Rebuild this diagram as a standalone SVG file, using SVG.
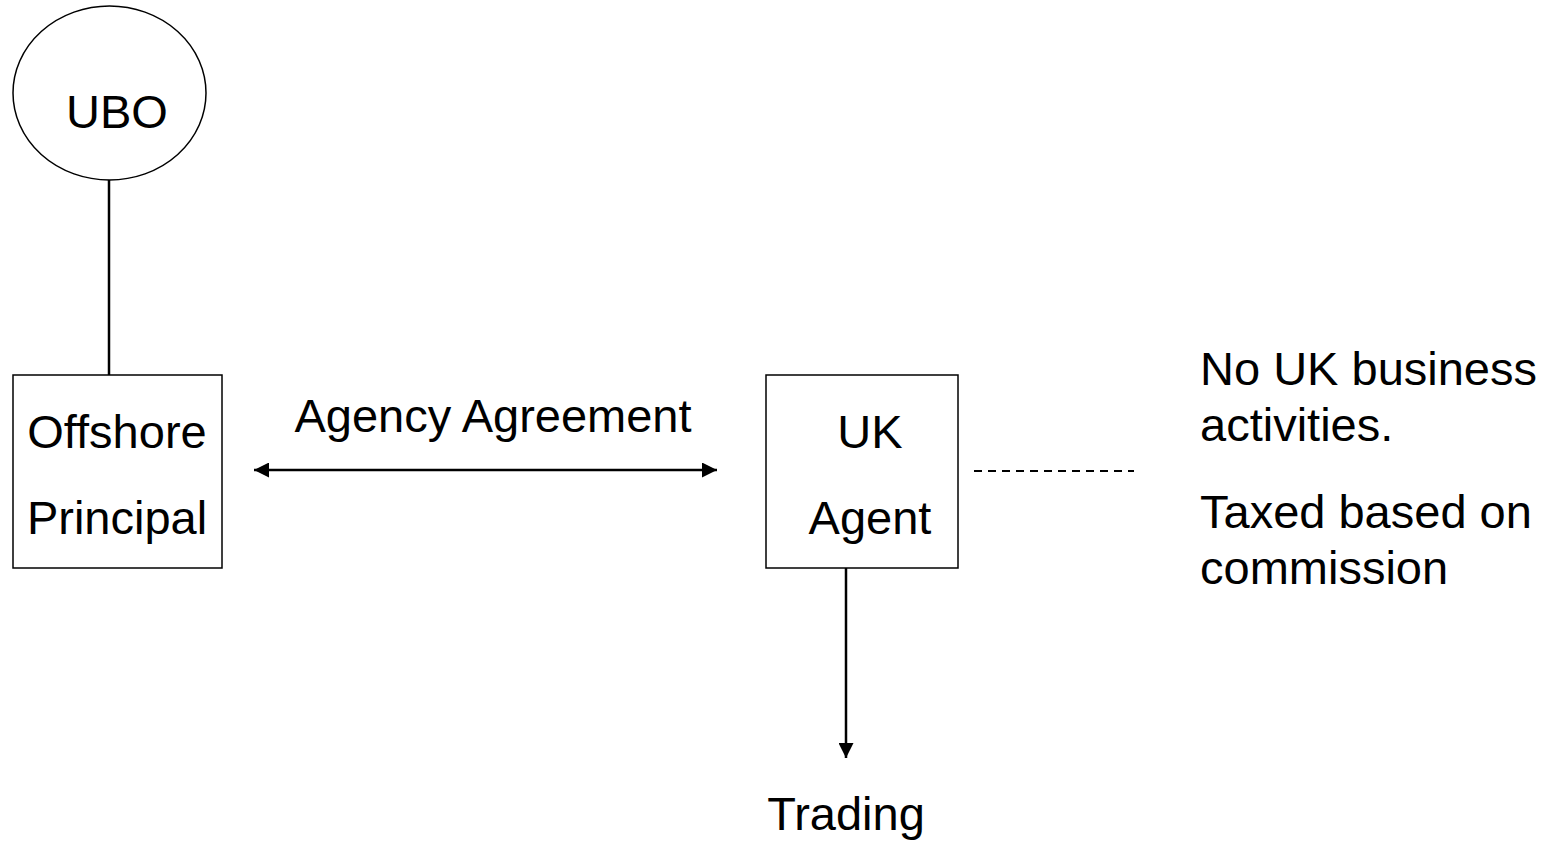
<svg xmlns="http://www.w3.org/2000/svg" width="1559" height="842" viewBox="0 0 1559 842">
<style>
.shape{fill:#fff;stroke:#000;stroke-width:1.5}
.t{font-family:"Liberation Sans",Arial,sans-serif;font-size:47px;fill:#000}
.c{stroke:#000;stroke-width:2.5;fill:none}
</style>
<defs>
<marker id="ah" viewBox="0 0 10 10" refX="10" refY="5" markerWidth="6.5" markerHeight="6" markerUnits="strokeWidth" orient="auto-start-reverse">
<path d="M0,0 L10,5 L0,10 Z" fill="#000"/>
</marker>
</defs>
<rect width="1559" height="842" fill="#fff"/>
<g id="connectors">
<line class="c" x1="109" y1="180" x2="109" y2="375"/>
<line class="c" x1="254" y1="470" x2="717" y2="470" marker-start="url(#ah)" marker-end="url(#ah)"/>
<line x1="974" y1="471" x2="1134" y2="471" stroke="#000" stroke-width="2" stroke-dasharray="8,6"/>
<line class="c" x1="846" y1="568" x2="846" y2="758" marker-end="url(#ah)"/>
</g>
<g id="ubo">
<ellipse class="shape" cx="109.5" cy="93" rx="96.5" ry="87"/>
<text class="t" x="117" y="128" text-anchor="middle">UBO</text>
</g>
<g id="offshore-principal">
<rect class="shape" x="13" y="375" width="209" height="193"/>
<text class="t" x="117" y="448" text-anchor="middle">Offshore</text>
<text class="t" x="117" y="534" text-anchor="middle">Principal</text>
</g>
<g id="agency-label">
<text class="t" x="493" y="432" text-anchor="middle">Agency Agreement</text>
</g>
<g id="uk-agent">
<rect class="shape" x="766" y="375" width="192" height="193"/>
<text class="t" x="870" y="448" text-anchor="middle">UK</text>
<text class="t" x="870" y="534" text-anchor="middle">Agent</text>
</g>
<g id="trading">
<text class="t" x="846" y="830" text-anchor="middle">Trading</text>
</g>
<g id="notes">
<text class="t" x="1200" y="385">No UK business</text>
<text class="t" x="1200" y="441">activities.</text>
<text class="t" x="1200" y="528">Taxed based on</text>
<text class="t" x="1200" y="584">commission</text>
</g>
</svg>
